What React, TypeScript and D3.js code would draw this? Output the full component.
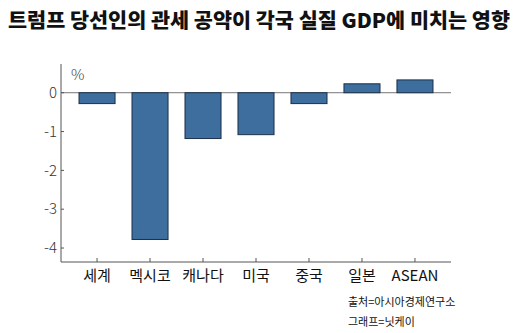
import React from "react";
import * as d3 from "d3";

const categories = ["세계", "멕시코", "캐나다", "미국", "중국", "일본", "ASEAN"];
const values = [-0.28, -3.78, -1.18, -1.08, -0.28, 0.23, 0.33];
const yTicks = [0, -1, -2, -3, -4];
const title = "트럼프 당선인의 관세 공약이 각국 실질 GDP에 미치는 영향";
const unitLabel = "%";
const sourceLines = ["출처=아시아경제연구소", "그래프=닛케이"];

const W = 518;
const H = 333;
const left = 61;
const right = 451;
const top = 64;
const bottom = 262;

export default function App() {
  const x = d3.scaleBand<string>().domain(categories).range([left, right]).paddingInner(0.32).paddingOuter(0.34);
  const y = d3.scaleLinear().domain([-4.36, 0.74]).range([bottom, top]);
  const font = "'Noto Sans CJK KR', 'Noto Sans', sans-serif";
  return (
    <svg width={W} height={H} style={{ position: "absolute", left: 0, top: 0, background: "#fff" }}>
      <text x={8} y={28} fontFamily={font} fontWeight={900} fontSize={20} fill="#111" textLength={502} lengthAdjust="spacingAndGlyphs">
        {title}
      </text>
      <line x1={left} x2={left} y1={top} y2={bottom} stroke="#555" strokeWidth={1} />
      <line x1={left} x2={right} y1={bottom} y2={bottom} stroke="#555" strokeWidth={1} />
      <line x1={left} x2={right} y1={y(0)} y2={y(0)} stroke="#777" strokeWidth={1} />
      {yTicks.map((t) => (
        <g key={t}>
          <line x1={left} x2={left + 3} y1={y(t)} y2={y(t)} stroke="#555" />
          <text x={left - 4} y={y(t)} dy="0.35em" textAnchor="end" fontFamily={font} fontWeight={300} fontSize={15} fill="#333">
            {String(t)}
          </text>
        </g>
      ))}
      <text x={71} y={80} fontFamily={font} fontWeight={300} fontSize={15} fill="#444">{unitLabel}</text>
      {values.map((v, i) => {
        const c = categories[i];
        const y0 = y(Math.max(0, v));
        const y1 = y(Math.min(0, v));
        return (
          <rect key={c} x={x(c)!} y={y0} width={x.bandwidth()} height={y1 - y0} fill="#3d6e9e" stroke="#1a3048" strokeWidth={1} />
        );
      })}
      {categories.map((c) => {
        const cx = x(c)! + x.bandwidth() / 2;
        return (
          <g key={c}>
            <line x1={cx} x2={cx} y1={bottom} y2={bottom - 4} stroke="#555" />
            <text x={cx} y={281} textAnchor="middle" fontFamily={font} fontSize={15} fill="#111">{c}</text>
          </g>
        );
      })}
      {sourceLines.map((s, i) => (
        <text key={s} x={348} y={306 + i * 20} fontFamily={font} fontSize={11} fill="#111">{s}</text>
      ))}
    </svg>
  );
}
